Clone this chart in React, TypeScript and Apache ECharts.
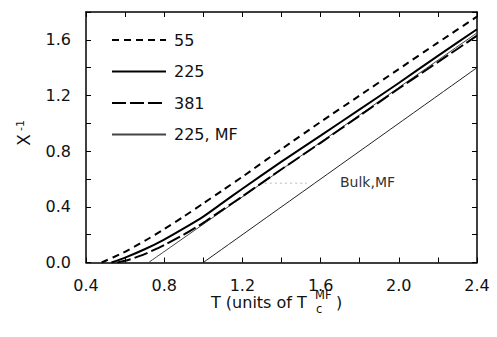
import React, { useEffect, useRef } from "react";
import * as echarts from "echarts";

// Inverse susceptibility vs temperature
const t55 = [0.48, 0.59, 0.7, 0.8, 0.9, 1.0, 1.1, 1.2, 1.4, 1.6, 1.8, 2.0, 2.2, 2.4];
const y55 = [0, 0.07, 0.155, 0.24, 0.33, 0.425, 0.52, 0.616, 0.815, 1.01, 1.2, 1.39, 1.58, 1.767];

const t225 = [0.53, 0.6, 0.7, 0.8, 0.9, 1.0, 1.1, 1.2, 1.4, 1.6, 1.8, 2.0, 2.2, 2.4];
const y225 = [0, 0.035, 0.095, 0.165, 0.245, 0.33, 0.43, 0.53, 0.725, 0.912, 1.1, 1.29, 1.485, 1.676];

const t381 = [0.56, 0.62, 0.7, 0.8, 0.9, 1.0, 1.1, 1.2, 1.4, 1.6, 1.8, 2.0, 2.2, 2.4];
const y381 = [0, 0.02, 0.06, 0.125, 0.2, 0.285, 0.38, 0.475, 0.67, 0.86, 1.055, 1.25, 1.44, 1.63];

const t225MF = [0.72, 2.4];
const y225MF = [0, 1.65];

const tBulkMF = [1.0, 2.4];
const yBulkMF = [0, 1.4];

const tLeader = [1.29, 1.53];
const yLeader = [0.57, 0.57];

const legendNames = ["55", "225", "381", "225, MF"];

const FONT = "DejaVu Sans";

const pairs = (xs: number[], ys: number[]) => xs.map((x, i) => [x, ys[i]]);

const fmt = (v: number) => (Math.round(v * 10) % 4 === 0 ? v.toFixed(1) : "");

export default function App() {
  const ref = useRef<HTMLDivElement>(null);
  useEffect(() => {
    if (!ref.current) return;
    const chart = echarts.init(ref.current, null, { renderer: "svg" });
    const axisLine = { show: true, onZero: false, lineStyle: { color: "#000", width: 1.5 } };
    const tick = { show: true, inside: true, length: 5, lineStyle: { color: "#000", width: 1 } };
    const xBase = { type: "value", min: 0.4, max: 2.4, interval: 0.2, splitLine: { show: false }, axisLine, axisTick: tick };
    const yBase = { type: "value", min: 0, max: 1.8, interval: 0.2, splitLine: { show: false }, axisLine, axisTick: tick };
    const lineSeries = (name: string, data: number[][], style: any, z = 3) => ({
      name,
      type: "line",
      data,
      symbol: "none",
      smooth: 0.2,
      z,
      lineStyle: style,
      itemStyle: { color: style.color },
    });
    chart.setOption({
      animation: false,
      backgroundColor: "#fff",
      grid: { left: 86, right: 20, top: 12, bottom: 74.5 },
      xAxis: [
        {
          ...xBase,
          position: "bottom",
          axisLabel: { formatter: fmt, fontFamily: FONT, fontSize: 16, lineHeight: 16, color: "#111", margin: 15 },
        },
        { ...xBase, position: "top", axisLabel: { show: false } },
      ],
      yAxis: [
        {
          ...yBase,
          position: "left",
          axisLabel: { formatter: fmt, fontFamily: FONT, fontSize: 16, color: "#111", margin: 15 },
        },
        { ...yBase, position: "right", axisLabel: { show: false } },
      ],
      legend: {
        data: legendNames,
        orient: "vertical",
        left: 106,
        top: 25,
        itemWidth: 54,
        itemHeight: 14,
        itemGap: 11.5,
        itemStyle: { opacity: 0 },
        textStyle: { fontFamily: FONT, fontSize: 16, color: "#111", lineHeight: 20, padding: [0, 0, 0, 3] },
        selectedMode: false,
      },
      series: [
        lineSeries("55", pairs(t55, y55), { color: "#000", width: 2, type: [7, 5] }),
        lineSeries("225", pairs(t225, y225), { color: "#000", width: 2, type: "solid" }),
        lineSeries("381", pairs(t381, y381), { color: "#000", width: 2, type: [14, 4] }),
        lineSeries("225, MF", pairs(t225MF, y225MF), { color: "#444", width: 1, type: "solid" }, 2),
        lineSeries("Bulk, MF", pairs(tBulkMF, yBulkMF), { color: "#222", width: 1, type: "solid" }, 2),
        lineSeries("leader", pairs(tLeader, yLeader), { color: "#bbb", width: 1, type: [2, 3] }, 1),
      ],
      graphic: [
        {
          type: "text",
          left: 340,
          top: 175,
          style: { text: "Bulk,MF", fontFamily: FONT, fontSize: 14, fill: "#333" },
        },
        {
          type: "group",
          x: 24,
          y: 140,
          rotation: Math.PI / 2,
          children: [
            {
              type: "text",
              x: 0,
              y: 0,
              style: { text: "X", fontFamily: FONT, fontSize: 17, fill: "#111", align: "center", verticalAlign: "middle" },
            },
            {
              type: "text",
              x: 9,
              y: -4,
              style: { text: "-1", fontFamily: FONT, fontSize: 11, fill: "#111", align: "left", verticalAlign: "middle" },
            },
          ],
        },
        {
          type: "text",
          x: 211,
          y: 302,
          style: { text: "T (units of T", fontFamily: FONT, fontSize: 16, lineHeight: 14, fill: "#111", verticalAlign: "middle" },
        },
        {
          type: "text",
          x: 315,
          y: 295,
          style: { text: "MF", fontFamily: FONT, fontSize: 11.5, lineHeight: 9, fill: "#111", verticalAlign: "middle" },
        },
        {
          type: "text",
          x: 316,
          y: 308.5,
          style: { text: "c", fontFamily: FONT, fontSize: 11.5, lineHeight: 9, fill: "#111", verticalAlign: "middle" },
        },
        {
          type: "text",
          x: 336,
          y: 302,
          style: { text: ")", fontFamily: FONT, fontSize: 16, lineHeight: 14, fill: "#111", verticalAlign: "middle" },
        },
      ],
    });
    return () => chart.dispose();
  }, []);
  return <div ref={ref} style={{ width: 497, height: 337, position: "absolute", left: 0, top: 0 }} />;
}
